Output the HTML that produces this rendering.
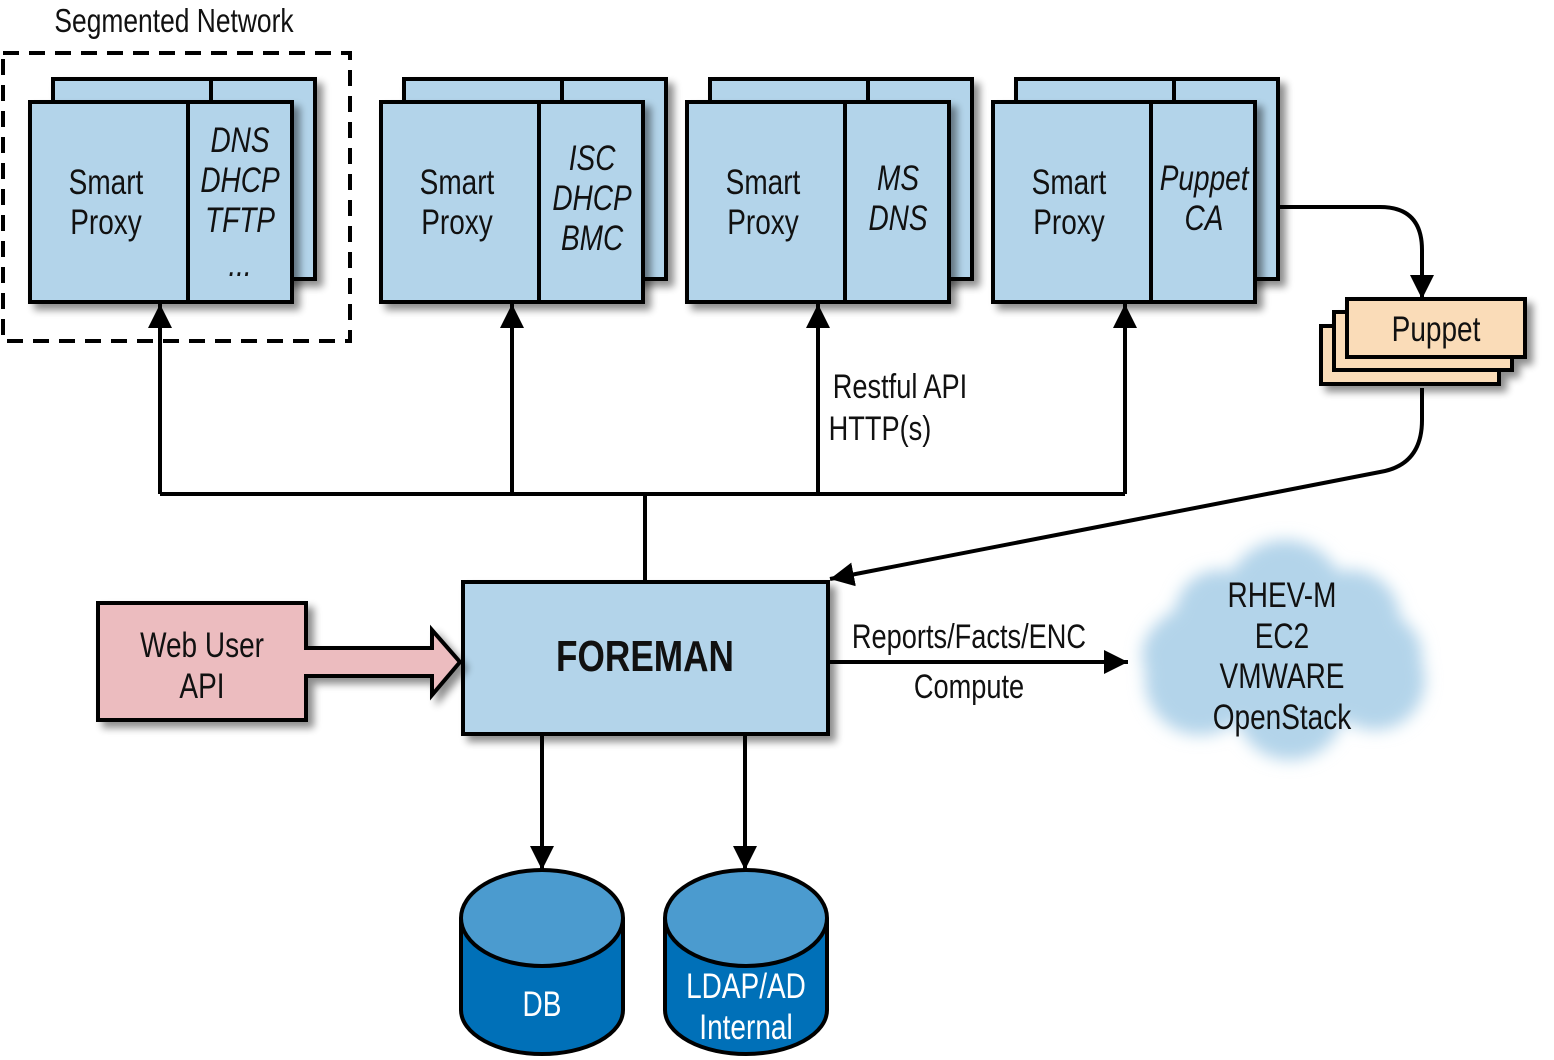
<!DOCTYPE html>
<html><head><meta charset="utf-8"><style>
html,body{margin:0;padding:0;background:#fff;}
svg{display:block;}
text{font-family:"Liberation Sans",sans-serif;fill:#111;transform-box:fill-box;transform-origin:center;transform:scaleX(0.8);}
</style></head><body>
<svg width="1554" height="1060" viewBox="0 0 1554 1060" xmlns="http://www.w3.org/2000/svg">
<defs>
<filter id="sh" x="-20%" y="-20%" width="150%" height="150%"><feGaussianBlur in="SourceAlpha" stdDeviation="4"/><feOffset dx="6" dy="6"/><feComponentTransfer><feFuncA type="linear" slope="0.45"/></feComponentTransfer><feMerge><feMergeNode/><feMergeNode in="SourceGraphic"/></feMerge></filter>
<filter id="blur"><feGaussianBlur stdDeviation="8"/></filter>
<marker id="ah" markerWidth="24" markerHeight="24" refX="10" refY="5" orient="auto" markerUnits="userSpaceOnUse" viewBox="0 0 10 10"><path d="M0,0 L10,5 L0,10 z" fill="#000"/></marker>
</defs>

<text x="174" y="32" font-size="33" text-anchor="middle">Segmented Network</text>
<rect x="3" y="53" width="347" height="288" fill="none" stroke="#000" stroke-width="4" stroke-dasharray="16,10"/>

<g id="g1">
<g filter="url(#sh)">
<rect x="53" y="79" width="262" height="200" fill="#b3d4ea" stroke="#000" stroke-width="4"/>
<line x1="211" y1="79" x2="211" y2="279" stroke="#000" stroke-width="4"/>
</g>
<g filter="url(#sh)">
<rect x="30" y="102" width="262" height="200" fill="#b3d4ea" stroke="#000" stroke-width="4"/>
<line x1="188" y1="102" x2="188" y2="302" stroke="#000" stroke-width="4"/>
</g>
</g>
<use href="#g1" x="351"/>
<use href="#g1" x="657"/>
<use href="#g1" x="963"/>

<g font-size="35" text-anchor="middle">
<text x="106" y="194">Smart</text><text x="106" y="234">Proxy</text>
<text x="457" y="194">Smart</text><text x="457" y="234">Proxy</text>
<text x="763" y="194">Smart</text><text x="763" y="234">Proxy</text>
<text x="1069" y="194">Smart</text><text x="1069" y="234">Proxy</text>
</g>
<g font-size="35" text-anchor="middle" font-style="italic">
<text x="240" y="152">DNS</text><text x="240" y="192">DHCP</text><text x="240" y="232">TFTP</text><text x="240" y="276">...</text>
<text x="592" y="170">ISC</text><text x="592" y="210">DHCP</text><text x="592" y="250">BMC</text>
<text x="898" y="190">MS</text><text x="898" y="230">DNS</text>
<text x="1204" y="190">Puppet</text><text x="1204" y="230">CA</text>
</g>

<g stroke="#000" stroke-width="4" fill="none">
<polyline points="160,494 1125,494"/>
<line x1="645" y1="494" x2="645" y2="581"/>
<line x1="160" y1="494" x2="160" y2="304" marker-end="url(#ah)"/>
<line x1="512" y1="494" x2="512" y2="304" marker-end="url(#ah)"/>
<line x1="818" y1="494" x2="818" y2="304" marker-end="url(#ah)"/>
<line x1="1125" y1="494" x2="1125" y2="304" marker-end="url(#ah)"/>
<path d="M1280,207 L1380,207 Q1422,207 1422,250 L1422,299" marker-end="url(#ah)"/>
<path d="M1422,388 L1422,420 Q1422,465 1380,472 L830,579" marker-end="url(#ah)"/>
<line x1="828" y1="662" x2="1128" y2="662" marker-end="url(#ah)"/>
<line x1="542" y1="734" x2="542" y2="870" marker-end="url(#ah)"/>
<line x1="745" y1="734" x2="745" y2="870" marker-end="url(#ah)"/>
</g>
<text x="900" y="398" font-size="34" text-anchor="middle">Restful API</text>
<text x="880" y="440" font-size="34" text-anchor="middle">HTTP(s)</text>

<g filter="url(#sh)">
<rect x="1321" y="326" width="178" height="58" fill="#fadcb8" stroke="#000" stroke-width="4"/>
<rect x="1334" y="312" width="178" height="58" fill="#fadcb8" stroke="#000" stroke-width="4"/>
<rect x="1347" y="299" width="178" height="58" fill="#fadcb8" stroke="#000" stroke-width="4"/>
</g>
<text x="1436" y="341" font-size="35" text-anchor="middle">Puppet</text>

<rect x="463" y="582" width="365" height="152" fill="#b3d4ea" stroke="#000" stroke-width="4" filter="url(#sh)"/>
<text x="645" y="671" font-size="44" font-weight="bold" text-anchor="middle">FOREMAN</text>

<g filter="url(#sh)">
<path d="M98,603 L306,603 L306,648 L432,648 L432,630 L460,662 L432,695 L432,676 L306,676 L306,720 L98,720 Z" fill="#ecbcbf" stroke="#000" stroke-width="4"/>
</g>
<text x="202" y="657" font-size="35" text-anchor="middle">Web User</text>
<text x="202" y="698" font-size="35" text-anchor="middle">API</text>

<text x="969" y="648" font-size="34" text-anchor="middle">Reports/Facts/ENC</text>
<text x="969" y="698" font-size="34" text-anchor="middle">Compute</text>

<g fill="#b3d4ea" filter="url(#blur)">
<ellipse cx="1282" cy="655" rx="140" ry="70"/>
<circle cx="1285" cy="600" r="60"/>
<circle cx="1220" cy="615" r="45"/>
<circle cx="1350" cy="620" r="50"/>
<circle cx="1200" cy="680" r="55"/>
<circle cx="1290" cy="705" r="55"/>
<circle cx="1375" cy="680" r="50"/>
</g>
<g font-size="35" text-anchor="middle">
<text x="1282" y="607">RHEV-M</text><text x="1282" y="648">EC2</text><text x="1282" y="688">VMWARE</text><text x="1282" y="729">OpenStack</text>
</g>

<g stroke="#000" stroke-width="4">
<path d="M461,918 L461,1010 A81,44 0 0 0 623,1010 L623,918" fill="#0070b8"/>
<ellipse cx="542" cy="918" rx="81" ry="48" fill="#4b9bcf"/>
<path d="M665,918 L665,1010 A81,44 0 0 0 827,1010 L827,918" fill="#0070b8"/>
<ellipse cx="746" cy="918" rx="81" ry="48" fill="#4b9bcf"/>
</g>
<g font-size="35" text-anchor="middle">
<text x="542" y="1016" style="fill:#fff">DB</text>
<text x="746" y="998" style="fill:#fff">LDAP/AD</text>
<text x="746" y="1039" style="fill:#fff">Internal</text>
</g>
</svg>
</body></html>
